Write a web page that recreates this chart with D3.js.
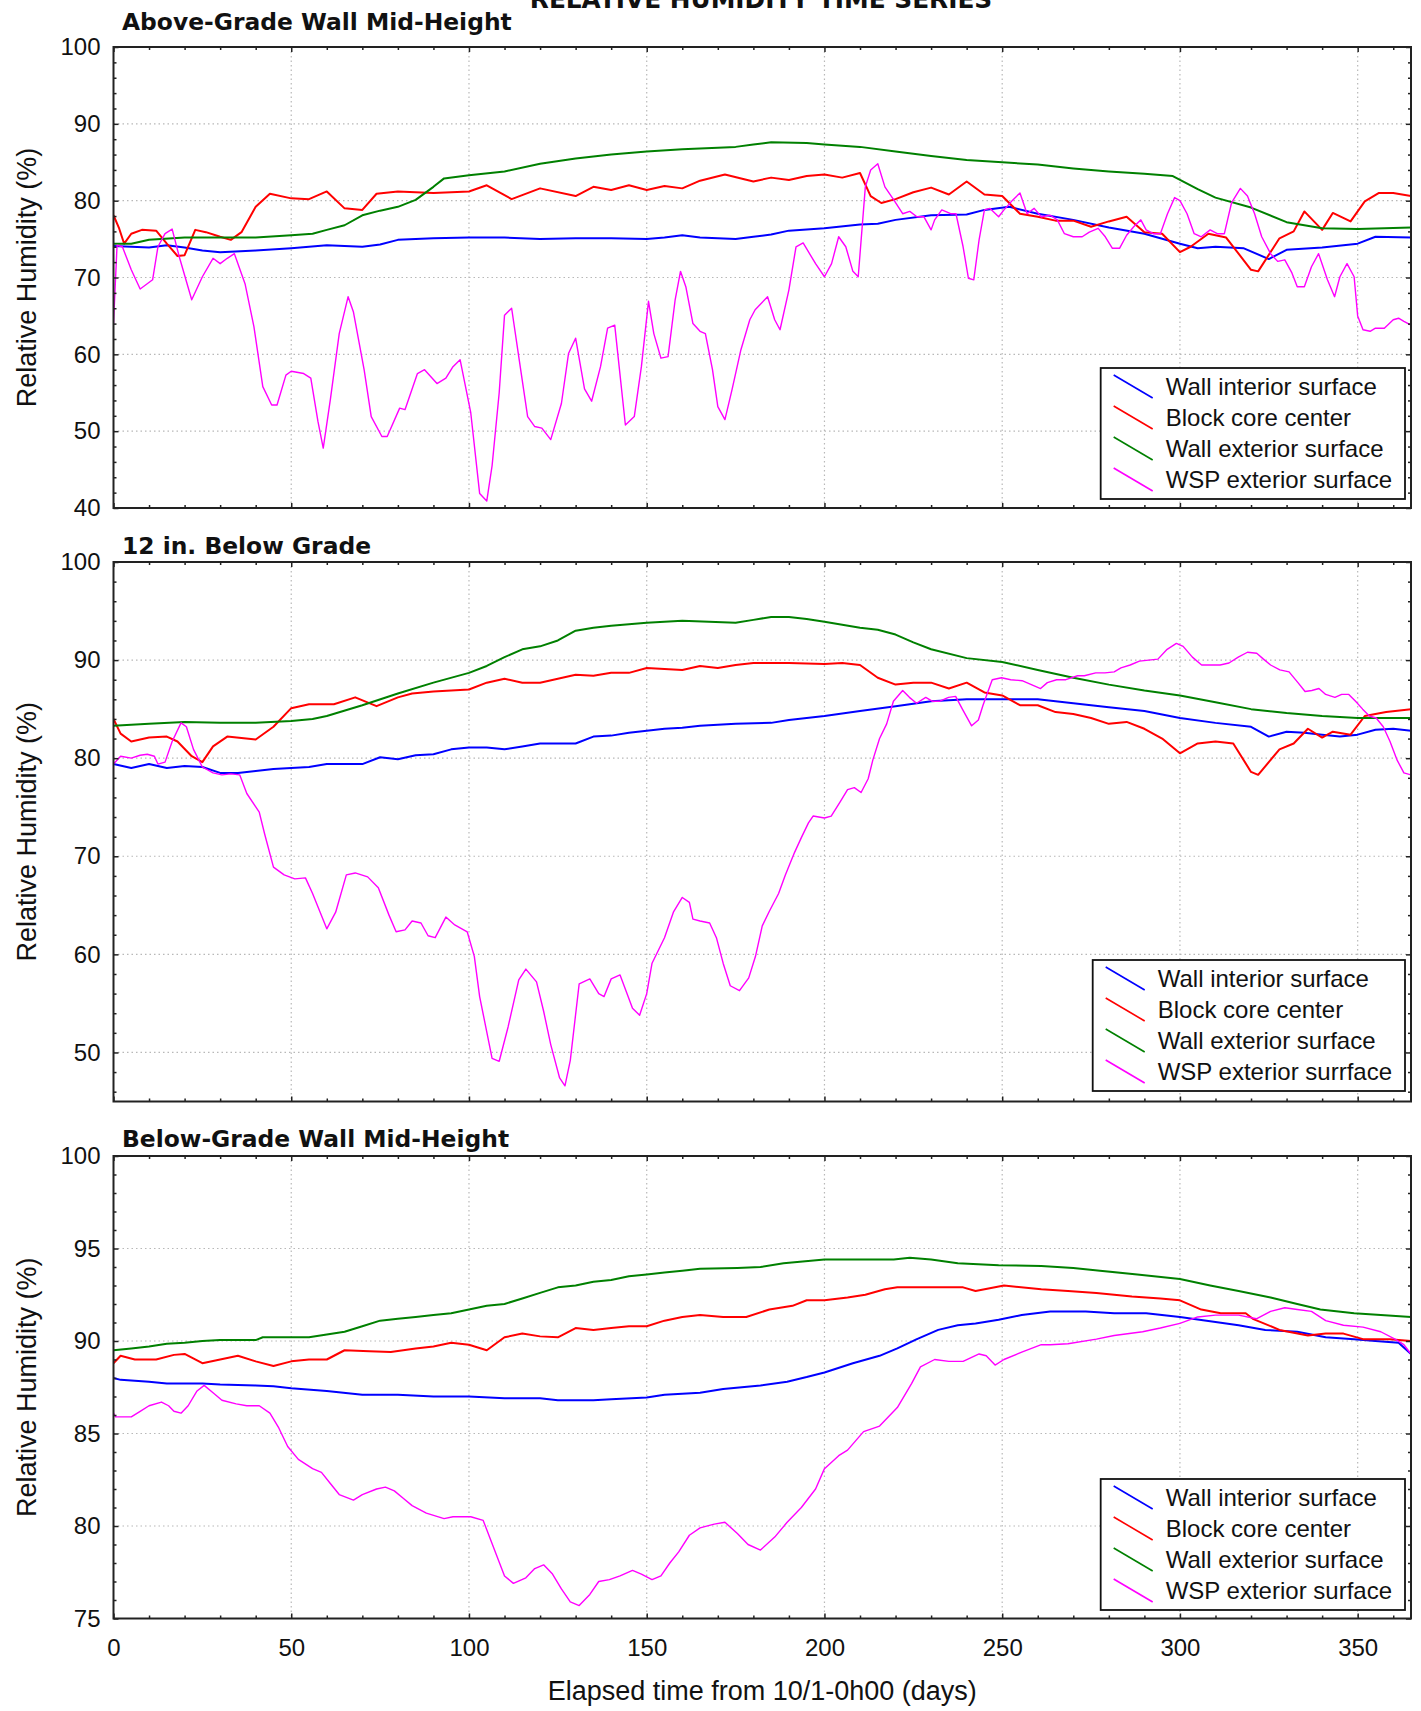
<!DOCTYPE html>
<html>
<head>
<meta charset="utf-8">
<script src="https://cdn.jsdelivr.net/npm/d3@7"></script>
<style>
  body { margin: 0; background: #fff; }
  text { font-family: "Liberation Sans", Arial, sans-serif; fill: #111; }
</style>
</head>
<body>
<svg id="chart" width="1421" height="1711"></svg>
<script>
// ---- data: [day, RH %] ----

var seriesNames = ["Wall interior surface", "Block core center", "Wall exterior surface", "WSP exterior surface"];
// the middle plot has a typo in its legend, kept as is
var seriesNames12in = ["Wall interior surface", "Block core center", "Wall exterior surface", "WSP exterior surrface"];
var seriesColors = ["#0000ff", "#ff0000", "#008000", "#ff00ff"];

var xTicks = [0, 50, 100, 150, 200, 250, 300, 350];
var aboveTicks = [40, 50, 60, 70, 80, 90, 100];
var below12Ticks = [50, 60, 70, 80, 90, 100];
var belowMidTicks = [75, 80, 85, 90, 95, 100];

// Above-Grade Wall Mid-Height
var aboveInterior = [[0,74.1],[5,74.0],[10,73.9],[15,74.2],[20,73.9],[25,73.5],[30,73.3],[40,73.5],[50,73.8],[60,74.2],[70,74.0],[75,74.3],[80,74.9],[90,75.1],[100,75.2],[110,75.2],[120,75.0],[130,75.1],[140,75.1],[150,75.0],[155,75.2],[160,75.5],[165,75.2],[175,75.0],[180,75.3],[185,75.6],[190,76.1],[200,76.4],[210,76.9],[215,77.0],[220,77.5],[230,78.1],[240,78.2],[245,78.8],[252,79.2],[260,78.3],[270,77.5],[280,76.5],[290,75.7],[300,74.4],[305,73.8],[310,74.0],[318,73.8],[325,72.4],[330,73.6],[340,73.9],[350,74.4],[355,75.3],[365,75.2]];
var aboveCore = [[0,78.1],[1.5,76.5],[3,74.4],[5,75.7],[8,76.2],[12,76.1],[15,74.4],[18,72.8],[20,72.9],[23,76.2],[26,75.9],[30,75.3],[33,74.9],[36,75.9],[40,79.2],[44,80.9],[50,80.3],[55,80.2],[60,81.2],[65,79.0],[70,78.8],[74,80.9],[80,81.2],[90,81.0],[100,81.2],[105,82.0],[112,80.2],[120,81.6],[130,80.6],[135,81.8],[140,81.4],[145,82.0],[150,81.4],[155,81.9],[160,81.6],[165,82.6],[172,83.4],[180,82.5],[185,83.0],[190,82.7],[195,83.2],[200,83.4],[205,83.0],[210,83.6],[213,80.6],[216,79.7],[220,80.2],[225,81.1],[230,81.7],[235,80.8],[240,82.5],[245,80.8],[250,80.6],[255,78.3],[260,77.9],[265,77.4],[270,77.4],[275,76.6],[280,77.3],[285,77.9],[290,75.9],[295,75.7],[300,73.3],[303,74.0],[308,75.7],[313,75.2],[320,71.0],[322,70.8],[328,75.1],[332,76.0],[335,78.6],[340,76.2],[343,78.4],[348,77.3],[352,79.9],[356,81.0],[360,81.0],[365,80.6]];
var aboveExterior = [[0,74.4],[5,74.4],[10,74.9],[20,75.2],[30,75.2],[40,75.2],[50,75.5],[56,75.7],[60,76.2],[65,76.8],[70,78.1],[75,78.7],[80,79.2],[85,80.1],[90,81.8],[93,82.9],[100,83.3],[110,83.8],[120,84.8],[130,85.5],[140,86.0],[150,86.4],[160,86.7],[175,87.0],[180,87.3],[185,87.6],[195,87.5],[200,87.3],[210,87.0],[220,86.4],[230,85.8],[240,85.3],[250,85.0],[260,84.7],[270,84.2],[280,83.8],[290,83.5],[298,83.2],[305,81.5],[310,80.4],[320,79.1],[330,77.2],[340,76.4],[350,76.3],[365,76.5]];
var aboveWsp = [[0,64.0],[1,74.2],[2.5,74.0],[5,71.0],[7.5,68.5],[11,69.7],[12.5,74.0],[14.5,75.7],[16.5,76.3],[18.5,72.7],[22,67.1],[25,70.1],[28,72.5],[30,71.8],[32,72.5],[34,73.1],[37,69.2],[39.5,63.6],[42,55.8],[44.5,53.4],[46,53.4],[48.5,57.3],[50,57.8],[53.5,57.5],[55.5,56.9],[57.5,51.3],[59,47.8],[61,54.1],[63.5,62.7],[66,67.5],[67.5,65.5],[70.5,58.0],[72.5,51.9],[75.5,49.3],[77,49.3],[80.5,53.0],[82,52.8],[85.5,57.5],[87.5,58.0],[91,56.2],[93.5,56.9],[95.5,58.4],[97.5,59.3],[100.5,52.4],[103,41.9],[105,40.9],[106.5,45.5],[108.5,55.0],[110,65.1],[112,66.0],[114,59.7],[116.5,51.9],[118.5,50.6],[120.5,50.4],[123,48.9],[126,53.6],[128,60.1],[130,62.1],[132.5,55.5],[134.5,53.9],[137,58.4],[139,63.4],[141,63.8],[144,50.8],[146.5,51.9],[148.5,58.4],[150.5,66.9],[152,62.7],[154,59.5],[156,59.7],[158,67.1],[159.5,70.8],[161,68.8],[163,64.0],[165,63.0],[166.5,62.7],[168.5,58.0],[170,53.2],[172,51.5],[174,55.4],[176.5,60.6],[179,64.5],[180.5,65.8],[184,67.5],[186,64.5],[187.5,63.2],[190,68.4],[192,74.0],[194,74.5],[197.5,71.8],[200,70.1],[202,71.8],[204,75.3],[206,74.0],[208,70.8],[209.5,70.1],[211.5,81.8],[213,84.0],[215,84.8],[217,81.8],[219.5,80.1],[222,78.3],[224,78.6],[226,77.9],[228,77.9],[230,76.2],[231,77.5],[233,78.8],[235.5,78.3],[237,78.3],[239,74.0],[240.5,69.9],[242,69.7],[243.5,74.9],[245,78.8],[246.5,79.0],[249,77.9],[250.5,78.8],[253,80.1],[255,81.0],[257,78.3],[259,79.0],[261,77.9],[263.5,78.1],[265.5,77.5],[267.5,75.7],[270,75.3],[272.5,75.3],[274.5,75.9],[277,76.4],[279,75.3],[281,73.8],[283,73.8],[285,75.5],[287,76.6],[289,77.5],[290.5,76.2],[292.5,75.7],[294.5,75.7],[296.5,78.3],[298.5,80.4],[300,80.0],[302,78.3],[304,75.7],[306,75.3],[308.5,76.2],[310.5,75.7],[312.5,75.7],[314.5,79.7],[317,81.6],[319,80.6],[321,78.3],[323,75.3],[325.5,73.1],[327.5,72.1],[329.5,72.3],[331.5,70.6],[333,68.8],[335,68.8],[337,71.4],[339,73.1],[341.5,69.7],[343.5,67.5],[345,70.1],[347,71.8],[349,70.1],[350,65.0],[351.5,63.2],[353.5,63.0],[355,63.4],[357.5,63.4],[360,64.5],[361.5,64.7],[363,64.3],[365,63.8]];

// 12 in. Below Grade
var below12Interior = [[0,79.4],[5,79.0],[10,79.4],[15,79.0],[20,79.2],[25,79.1],[30,78.5],[35,78.5],[40,78.7],[45,78.9],[50,79.0],[55,79.1],[60,79.4],[70,79.4],[75,80.1],[80,79.9],[85,80.3],[90,80.4],[95,80.9],[100,81.1],[105,81.1],[110,80.9],[115,81.2],[120,81.5],[130,81.5],[135,82.2],[140,82.3],[145,82.6],[150,82.8],[155,83.0],[160,83.1],[165,83.3],[175,83.5],[185,83.6],[190,83.9],[200,84.3],[210,84.8],[220,85.3],[230,85.8],[240,86.0],[250,86.0],[260,86.0],[270,85.6],[280,85.2],[290,84.8],[300,84.1],[310,83.6],[320,83.2],[325,82.2],[330,82.7],[335,82.6],[340,82.4],[345,82.2],[350,82.4],[355,82.9],[360,83.0],[365,82.8]];
var below12Core = [[0,84.0],[2,82.5],[5,81.7],[10,82.1],[15,82.2],[18,81.7],[22,80.2],[25,79.6],[28,81.2],[32,82.2],[40,81.9],[45,83.2],[50,85.1],[55,85.5],[62,85.5],[68,86.2],[74,85.3],[80,86.2],[84,86.6],[90,86.8],[100,87.0],[105,87.7],[110,88.1],[115,87.7],[120,87.7],[125,88.1],[130,88.5],[135,88.4],[140,88.7],[145,88.7],[150,89.2],[155,89.1],[160,89.0],[165,89.4],[170,89.2],[175,89.5],[180,89.7],[190,89.7],[200,89.6],[205,89.7],[210,89.5],[215,88.2],[220,87.5],[225,87.7],[230,87.7],[235,87.1],[240,87.7],[245,86.7],[250,86.4],[255,85.4],[260,85.4],[265,84.7],[270,84.5],[275,84.1],[280,83.5],[285,83.7],[290,83.0],[295,82.0],[300,80.5],[305,81.5],[310,81.7],[315,81.5],[320,78.6],[322,78.3],[328,80.9],[332,81.5],[336,83.0],[340,82.1],[343,82.7],[348,82.4],[352,84.3],[358,84.7],[365,85.0]];
var below12Exterior = [[0,83.3],[10,83.5],[20,83.7],[30,83.6],[40,83.6],[50,83.8],[56,84.0],[60,84.3],[70,85.4],[80,86.6],[90,87.7],[100,88.7],[105,89.4],[110,90.3],[115,91.1],[120,91.4],[125,92.0],[130,93.0],[135,93.3],[140,93.5],[150,93.8],[160,94.0],[175,93.8],[180,94.1],[185,94.4],[190,94.4],[195,94.2],[200,93.9],[210,93.3],[215,93.1],[220,92.6],[225,91.8],[230,91.1],[240,90.2],[250,89.8],[260,89.0],[270,88.2],[280,87.5],[290,86.9],[300,86.4],[310,85.7],[320,85.0],[330,84.6],[340,84.3],[350,84.1],[365,84.1]];
var below12Wsp = [[0,79.4],[2,80.2],[5,80.0],[7.5,80.3],[9.5,80.4],[11.5,80.2],[12.5,79.4],[14.5,79.6],[16.5,81.7],[19,83.6],[20.5,83.2],[22.5,80.9],[25,79.1],[28,78.5],[30.5,78.3],[33,78.4],[35.5,78.3],[37.5,76.4],[41,74.5],[42.5,72.3],[45,68.9],[48,68.1],[51,67.7],[54,67.8],[56,66.2],[60,62.6],[62.5,64.3],[65.5,68.1],[68,68.3],[71.5,67.9],[74.5,66.8],[77.5,64.0],[79.5,62.3],[82,62.5],[84,63.4],[86.5,63.2],[88.5,61.9],[90.5,61.7],[93.5,63.8],[96,63.0],[99.5,62.3],[101.5,59.8],[103,55.7],[106.5,49.4],[108.5,49.1],[111,52.6],[114,57.4],[116,58.5],[119,57.2],[121,54.2],[123,50.8],[125.5,47.4],[127,46.6],[128.5,49.2],[131,57.0],[134,57.5],[136.5,56.0],[138,55.7],[140,57.5],[142.5,57.9],[146,54.5],[148,53.8],[150,56.0],[151.5,59.1],[155,61.7],[157.5,64.3],[160,65.8],[162,65.3],[163,63.6],[165,63.4],[167.7,63.2],[169.6,61.7],[171.5,59.1],[173.5,56.8],[176.1,56.3],[178.7,57.6],[180.6,59.8],[182.5,62.9],[184.5,64.4],[187.1,66.2],[189,68.1],[191.6,70.4],[193.5,71.9],[195.5,73.4],[196.8,74.1],[200,73.9],[201.9,74.1],[204.5,75.6],[206.5,76.8],[208.4,77.0],[210.3,76.5],[212.3,77.9],[213.6,79.8],[215.5,82.0],[217.5,83.5],[219.4,85.8],[222,86.9],[223.9,86.2],[225.9,85.6],[228.5,86.2],[230.4,85.8],[232.3,85.8],[234.9,86.2],[236.9,86.3],[238.8,85.0],[241.4,83.3],[243.3,83.9],[244.6,85.4],[247.2,88.0],[249.8,88.2],[252.4,88.0],[255.6,87.9],[258.2,87.5],[260.8,87.1],[262.7,87.7],[265.3,88.0],[267.9,88.0],[271.2,88.4],[273.1,88.4],[276.3,88.7],[278.9,88.7],[281.5,88.8],[283.4,89.2],[286,89.5],[288.6,89.9],[291.2,90.0],[293.8,90.1],[296.4,91.1],[299,91.7],[300.9,91.4],[303.5,90.3],[306.1,89.5],[308.7,89.5],[311.3,89.5],[313.8,89.7],[316.4,90.3],[319,90.8],[321.6,90.7],[323.5,90.1],[325.5,89.5],[328.1,89.0],[330.7,88.8],[333.2,87.7],[335.2,86.8],[337.1,86.9],[339.1,87.1],[341,86.5],[343.6,86.2],[345.5,86.5],[347.5,86.5],[349.4,85.8],[351.4,85.0],[353.3,84.3],[355.2,84.1],[357.2,83.2],[359.1,81.7],[361.1,79.8],[363,78.5],[365,78.3]];

// Below-Grade Wall Mid-Height
var belowMidInterior = [[0,88.0],[2,87.9],[10,87.8],[15,87.7],[25,87.7],[30,87.65],[40,87.6],[45,87.55],[50,87.45],[60,87.3],[70,87.1],[80,87.1],[90,87.0],[100,87.0],[110,86.9],[120,86.9],[125,86.8],[135,86.8],[140,86.85],[150,86.95],[155,87.1],[165,87.2],[171.5,87.4],[182,87.6],[189.5,87.8],[195,88.05],[200,88.3],[208,88.8],[215.5,89.2],[220.5,89.6],[226,90.1],[232,90.6],[237.5,90.85],[242.5,90.95],[249,91.15],[255.5,91.4],[263.5,91.6],[273.5,91.6],[281.5,91.5],[290.5,91.5],[300,91.3],[307.5,91.1],[316.5,90.85],[324,90.6],[333,90.5],[341,90.2],[349,90.1],[355,90.0],[361.5,89.9],[365,89.3]];
var belowMidCore = [[0,88.8],[2,89.2],[6,89.0],[12,89.0],[17,89.25],[20,89.3],[25,88.8],[30,89.0],[35,89.2],[40,88.9],[45,88.65],[50,88.9],[55,89.0],[60,89.0],[65,89.5],[72,89.45],[78,89.4],[85,89.6],[90,89.7],[95,89.9],[100,89.8],[105,89.5],[110,90.2],[115,90.4],[120,90.25],[125,90.2],[130,90.7],[135,90.6],[140,90.7],[145,90.8],[150,90.8],[155,91.1],[160,91.3],[165,91.4],[171.5,91.3],[178,91.3],[184.5,91.7],[191,91.9],[195,92.2],[200,92.2],[206.5,92.35],[211.5,92.5],[217,92.8],[220.5,92.9],[230,92.9],[239,92.9],[242.5,92.7],[250.5,93.0],[261,92.8],[268.5,92.7],[276.5,92.6],[286.5,92.4],[294.5,92.3],[300,92.2],[306,91.7],[311.5,91.5],[318.5,91.5],[320.5,91.2],[328,90.6],[336,90.3],[341,90.4],[346,90.4],[351.5,90.1],[359,90.1],[365,90.0]];
var belowMidExterior = [[0,89.5],[5,89.6],[10,89.7],[15,89.85],[20,89.9],[25,90.0],[30,90.05],[40,90.05],[42,90.2],[55,90.2],[60,90.35],[65,90.5],[70,90.8],[75,91.1],[80,91.2],[85,91.3],[90,91.4],[95,91.5],[100,91.7],[105,91.9],[110,92.0],[115,92.3],[120,92.6],[125,92.9],[130,93.0],[135,93.2],[140,93.3],[145,93.5],[150,93.6],[155,93.7],[160,93.8],[165,93.9],[175.5,93.95],[182,94.0],[188.5,94.2],[200,94.4],[210,94.4],[219.5,94.4],[224,94.5],[230,94.4],[237.5,94.2],[249,94.1],[261,94.05],[270,93.95],[277.5,93.8],[288,93.6],[300,93.35],[308.5,93.0],[316.5,92.7],[325.5,92.35],[333,92.0],[339.5,91.7],[349,91.5],[356.5,91.4],[365,91.3]];
var belowMidWsp = [[0,86.1],[0.6,85.9],[2.5,85.9],[5,85.9],[7.5,86.2],[10,86.5],[13.5,86.7],[15.5,86.5],[17,86.2],[19,86.1],[21,86.5],[23.5,87.3],[25.5,87.6],[28,87.2],[30.5,86.8],[34.5,86.6],[37.5,86.5],[41,86.5],[44,86.1],[46.5,85.3],[49,84.3],[52,83.6],[56,83.1],[58.5,82.9],[61,82.3],[63.5,81.7],[67.5,81.4],[70,81.7],[74,82.0],[76.5,82.1],[79,81.9],[81.5,81.5],[84,81.1],[88,80.7],[93,80.4],[95.5,80.5],[100.5,80.5],[104,80.3],[107,78.8],[110,77.3],[112.5,76.9],[116,77.2],[118.5,77.7],[121,77.9],[123.5,77.4],[126,76.6],[128.5,75.9],[131,75.7],[134,76.3],[136.5,77.0],[139.5,77.1],[142.5,77.3],[146,77.6],[148.5,77.4],[151.5,77.1],[154,77.3],[156.5,78.0],[159,78.6],[162,79.5],[165,79.9],[169,80.1],[172,80.2],[175.5,79.6],[178.5,79.0],[182,78.7],[186,79.4],[189.5,80.2],[193.5,81.0],[197.5,82.0],[200,83.1],[204,83.8],[206.5,84.1],[211,85.1],[215.5,85.4],[220.5,86.4],[224.5,87.7],[227,88.6],[231,89.0],[235,88.9],[239,88.9],[243.5,89.3],[245.5,89.2],[248,88.7],[250.5,89.0],[255.5,89.4],[261,89.8],[263.5,89.8],[268.5,89.85],[276.5,90.1],[281.5,90.3],[289.5,90.5],[294.5,90.7],[300,90.95],[305,91.3],[310,91.4],[316.5,91.4],[321.5,91.2],[325.5,91.6],[329.5,91.8],[333,91.7],[337,91.6],[341,91.1],[346,90.85],[351.5,90.75],[356.5,90.5],[360.5,90.1],[363,89.8],[365,89.3]];

// ---- layout ----

var plotLeft = 113.5, plotRight = 1411;

var panels = [
  {title: "Above-Grade Wall Mid-Height", titleY: 30, top: 47, bottom: 508,
   yDomain: [40, 100], yTicks: aboveTicks, yMinorStep: 2, legendTop: 368,
   names: seriesNames, series: [aboveInterior, aboveCore, aboveExterior, aboveWsp]},
  {title: "12 in. Below Grade", titleY: 554, top: 562, bottom: 1101.5,
   yDomain: [45, 100], yTicks: below12Ticks, yMinorStep: 2, legendTop: 960,
   names: seriesNames12in, series: [below12Interior, below12Core, below12Exterior, below12Wsp]},
  {title: "Below-Grade Wall Mid-Height", titleY: 1147, top: 1156, bottom: 1618.5,
   yDomain: [75, 100], yTicks: belowMidTicks, yMinorStep: 1, legendTop: 1479,
   names: seriesNames, series: [belowMidInterior, belowMidCore, belowMidExterior, belowMidWsp]}
];

var svg = d3.select("#chart");
svg.append("rect").attr("width", 1421).attr("height", 1711).attr("fill", "#fff");

var x = d3.scaleLinear().domain([0, 365]).range([plotLeft, plotRight]);
var xMinor = d3.range(10, 365, 10).filter(function (d) { return d % 50 !== 0; });

panels.forEach(function (p, pi) {
  var y = d3.scaleLinear().domain(p.yDomain).range([p.bottom, p.top]);
  var lo = p.yDomain[0], hi = p.yDomain[1];
  var yMinor = d3.range(Math.ceil(lo / p.yMinorStep) * p.yMinorStep, hi, p.yMinorStep)
    .filter(function (d) { return p.yTicks.indexOf(d) < 0; });
  var isLast = pi === panels.length - 1;

  var g = svg.append("g").attr("class", "panel");

  // dotted grid at the major ticks
  g.selectAll("line.vgrid")
    .data(xTicks.filter(function (d) { return d > 0; }))
    .enter().append("line")
    .attr("x1", function (d) { return x(d); }).attr("x2", function (d) { return x(d); })
    .attr("y1", p.top).attr("y2", p.bottom)
    .attr("stroke", "#b8b8b8").attr("stroke-width", 1.2)
    .attr("stroke-dasharray", "1.5,3");
  g.selectAll("line.hgrid")
    .data(p.yTicks.filter(function (d) { return d > lo && d < hi; }))
    .enter().append("line")
    .attr("x1", plotLeft).attr("x2", plotRight)
    .attr("y1", function (d) { return y(d); }).attr("y2", function (d) { return y(d); })
    .attr("stroke", "#b8b8b8").attr("stroke-width", 1.2)
    .attr("stroke-dasharray", "1.5,3");

  // series, clipped to the plot box
  var clipId = "clip" + pi;
  svg.append("clipPath").attr("id", clipId)
    .append("rect")
    .attr("x", plotLeft).attr("y", p.top)
    .attr("width", plotRight - plotLeft).attr("height", p.bottom - p.top);

  var line = d3.line()
    .x(function (d) { return x(d[0]); })
    .y(function (d) { return y(d[1]); });

  g.append("g").attr("clip-path", "url(#" + clipId + ")")
    .selectAll("path")
    .data(p.series)
    .enter().append("path")
    .attr("d", line)
    .attr("fill", "none")
    .attr("stroke", function (d, i) { return seriesColors[i]; })
    .attr("stroke-width", function (d, i) { return i === 3 ? 1.4 : 2; })
    .attr("stroke-linejoin", "round");

  // inward ticks on all four sides
  function styleAxis(sel) {
    sel.select(".domain").remove();
    sel.selectAll(".tick line").attr("stroke", "#222").attr("stroke-width", 1.5);
    sel.selectAll(".tick text")
      .attr("font-family", "'Liberation Sans', Arial, sans-serif")
      .attr("font-size", 24).attr("fill", "#111");
  }

  g.append("g").attr("transform", "translate(0," + p.bottom + ")")
    .call(d3.axisBottom(x).tickValues(xTicks).tickSize(-5).tickPadding(20)
      .tickFormat(isLast ? d3.format("d") : ""))
    .call(styleAxis);
  g.append("g").attr("transform", "translate(0," + p.bottom + ")")
    .call(d3.axisBottom(x).tickValues(xMinor).tickSize(-3).tickFormat(""))
    .call(styleAxis);
  g.append("g").attr("transform", "translate(0," + p.top + ")")
    .call(d3.axisTop(x).tickValues(xTicks).tickSize(-5).tickFormat(""))
    .call(styleAxis);
  g.append("g").attr("transform", "translate(0," + p.top + ")")
    .call(d3.axisTop(x).tickValues(xMinor).tickSize(-3).tickFormat(""))
    .call(styleAxis);

  g.append("g").attr("transform", "translate(" + plotLeft + ",0)")
    .call(d3.axisLeft(y).tickValues(p.yTicks).tickSize(-5).tickPadding(13).tickFormat(d3.format("d")))
    .call(styleAxis);
  g.append("g").attr("transform", "translate(" + plotLeft + ",0)")
    .call(d3.axisLeft(y).tickValues(yMinor).tickSize(-3).tickFormat(""))
    .call(styleAxis);
  g.append("g").attr("transform", "translate(" + plotRight + ",0)")
    .call(d3.axisRight(y).tickValues(p.yTicks).tickSize(-5).tickFormat(""))
    .call(styleAxis);
  g.append("g").attr("transform", "translate(" + plotRight + ",0)")
    .call(d3.axisRight(y).tickValues(yMinor).tickSize(-3).tickFormat(""))
    .call(styleAxis);

  // frame
  g.append("rect")
    .attr("x", plotLeft).attr("y", p.top)
    .attr("width", plotRight - plotLeft).attr("height", p.bottom - p.top)
    .attr("fill", "none").attr("stroke", "#222").attr("stroke-width", 2);

  // panel title
  g.append("text")
    .attr("x", 122).attr("y", p.titleY)
    .style("font-family", "'DejaVu Sans', sans-serif")
    .style("font-weight", "bold")
    .style("font-size", "23.4px")
    .text(p.title);

  // y axis label
  g.append("text")
    .attr("transform", "translate(36," + ((p.top + p.bottom) / 2) + ") rotate(-90)")
    .attr("text-anchor", "middle")
    .style("font-size", "27px")
    .text("Relative Humidity (%)");

  // legend
  var legend = g.append("g").attr("class", "legend");
  var box = legend.append("rect")
    .attr("y", p.legendTop).attr("height", 131)
    .attr("fill", "#fff").attr("stroke", "#111").attr("stroke-width", 1.8);

  var rows = legend.selectAll("g.row")
    .data(p.names)
    .enter().append("g")
    .attr("class", "row");

  var labels = rows.append("text")
    .attr("y", function (d, i) { return p.legendTop + 27 + i * 31; })
    .style("font-size", "24px")
    .text(function (d) { return d; });

  var maxLen = d3.max(labels.nodes(), function (n) { return n.getComputedTextLength(); });
  var boxRight = 1405;
  var boxLeft = boxRight - (maxLen + 65 + 13);
  box.attr("x", boxLeft).attr("width", boxRight - boxLeft);
  labels.attr("x", boxLeft + 65);

  rows.append("line")
    .attr("x1", boxLeft + 13).attr("x2", boxLeft + 52)
    .attr("y1", function (d, i) { return p.legendTop + 7 + i * 31; })
    .attr("y2", function (d, i) { return p.legendTop + 30 + i * 31; })
    .attr("stroke", function (d, i) { return seriesColors[i]; })
    .attr("stroke-width", 1.6);
});

// main title, cut off at the top edge as in the original
svg.append("text")
  .attr("x", 761).attr("y", 8)
  .attr("text-anchor", "middle")
  .style("font-family", "'DejaVu Sans', sans-serif")
  .style("font-weight", "bold")
  .style("font-size", "24.8px")
  .text("RELATIVE HUMIDITY TIME SERIES");

// x axis title
svg.append("text")
  .attr("x", (plotLeft + plotRight) / 2).attr("y", 1700)
  .attr("text-anchor", "middle")
  .style("font-size", "27px")
  .text("Elapsed time from 10/1-0h00 (days)");
</script>
</body>
</html>
